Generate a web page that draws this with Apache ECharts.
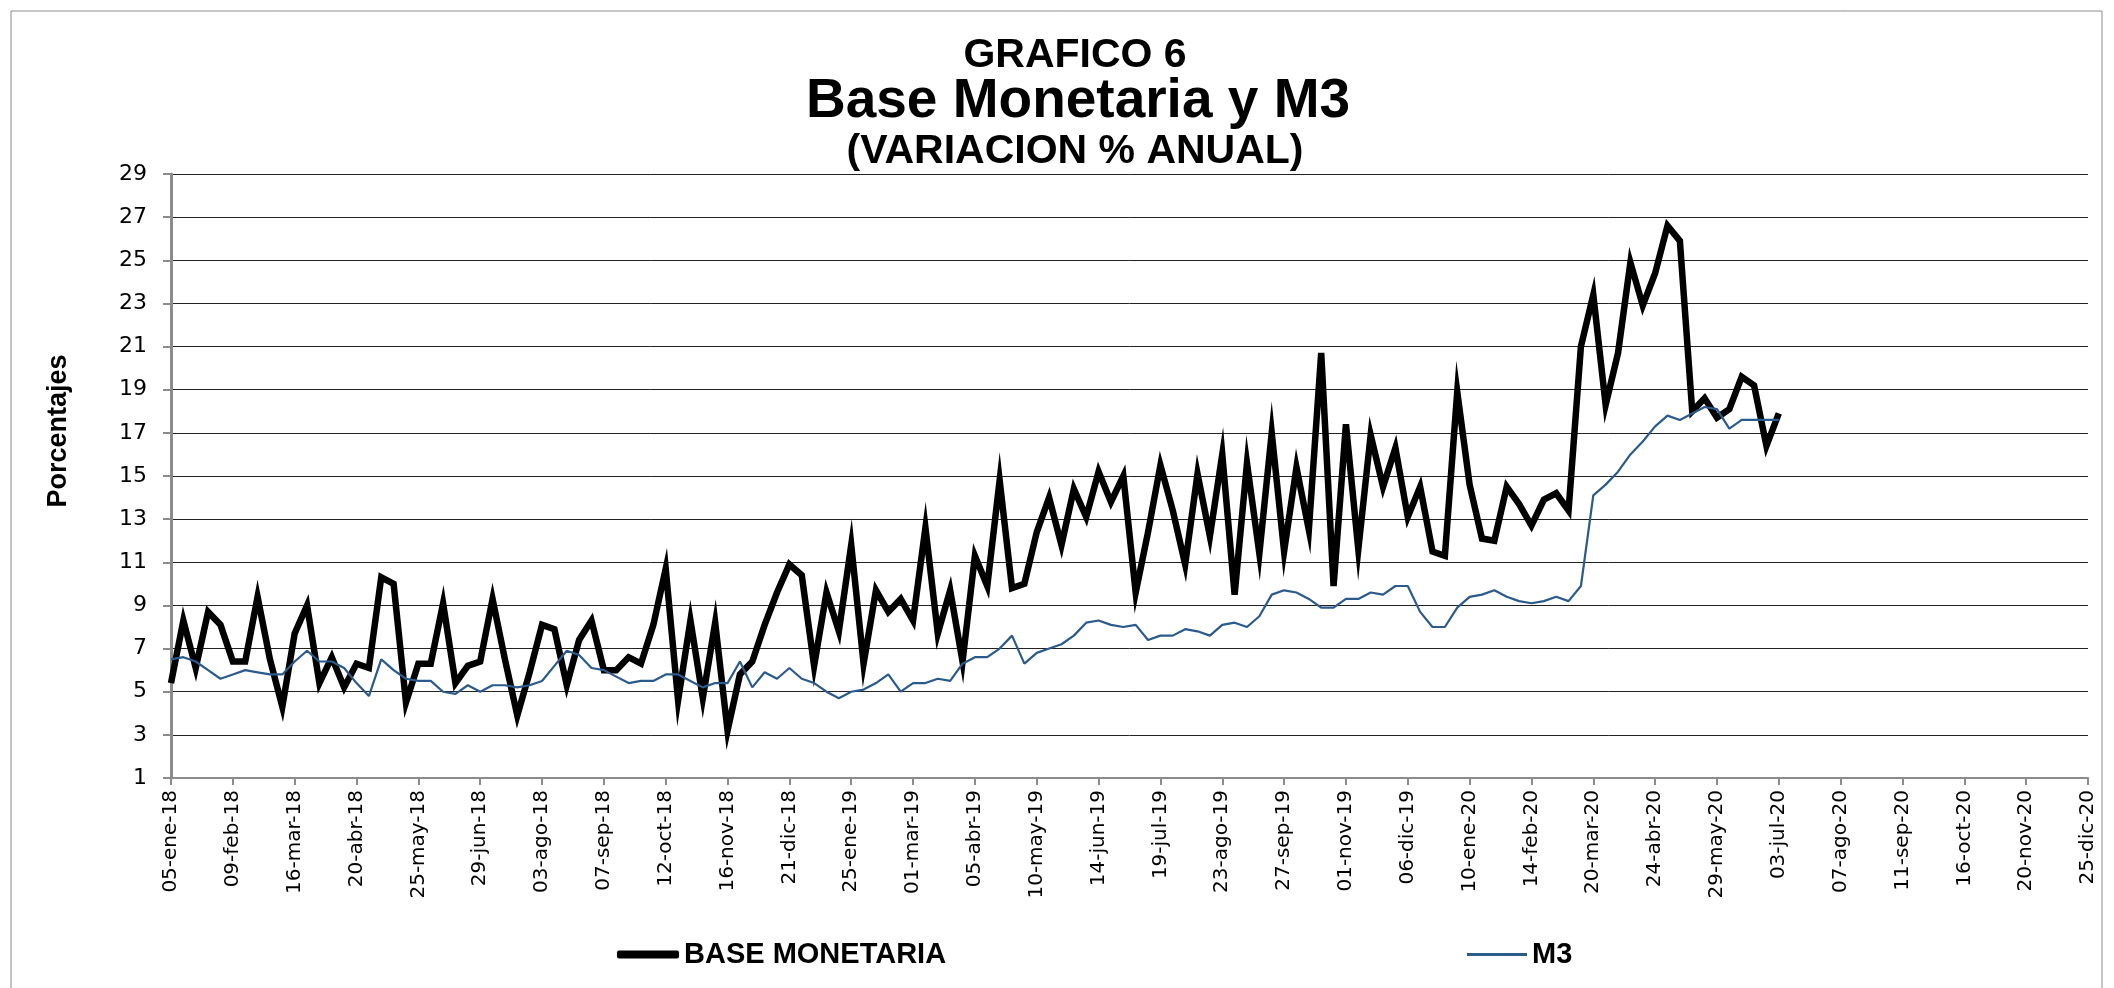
<!DOCTYPE html>
<html lang="es">
  <head>
    <meta charset="UTF-8" />
    <title>Base Monetaria y M3</title>
    <style>
      html,
      body {
        margin: 0;
        padding: 0;
        background: #fff;
      }
      #main {
        width: 2114px;
        height: 988px;
      }
    </style>
  </head>
  <body>
    <div id="main"></div>
    <script src="https://cdn.jsdelivr.net/npm/echarts@6/dist/echarts.min.js"></script>

    <script>
      // semanas desde 05-ene-18 hasta 25-dic-20 (156 semanas)
      const startDate = new Date(2018, 0, 5);
      const weekCount = 156;
      const monthNames = ["ene", "feb", "mar", "abr", "may", "jun", "jul", "ago", "sep", "oct", "nov", "dic"];

      // variacion % anual, semanal, 05-ene-18 .. 03-jul-20
      const baseMonetaria = [
        5.4, 8.3, 6.1, 8.7, 8.1, 6.4, 6.4, 9.4, 6.5, 4.3,
        7.7, 9.0, 5.4, 6.6, 5.2, 6.3, 6.1, 10.3, 10.0, 4.5,
        6.3, 6.3, 9.1, 5.4, 6.2, 6.4, 9.3, 6.5, 3.9, 5.9,
        8.1, 7.9, 5.3, 7.4, 8.3, 6.0, 6.0, 6.6, 6.3, 8.1,
        10.7, 4.6, 8.3, 4.7, 8.2, 3.2, 5.8, 6.4, 8.1, 9.6,
        10.9, 10.4, 6.2, 9.6, 7.8, 11.8, 6.3, 9.7, 8.7, 9.3,
        8.3, 12.6, 7.7, 9.7, 6.4, 11.3, 9.9, 14.8, 9.8, 10.0,
        12.4, 14.0, 11.8, 14.4, 13.1, 15.2, 13.8, 15.0, 9.6, 12.4,
        15.5, 13.4, 10.9, 15.1, 12.2, 16.0, 9.5, 15.6, 11.4, 17.0,
        11.5, 15.4, 12.5, 20.7, 9.9, 17.4, 11.6, 16.9, 14.5, 16.3,
        13.1, 14.5, 11.5, 11.3, 18.9, 14.6, 12.1, 12.0, 14.5, 13.7,
        12.7, 13.9, 14.2, 13.4, 21.0, 23.4, 18.3, 20.7, 24.9, 22.9,
        24.4, 26.6, 25.9, 18.0, 18.6, 17.7, 18.1, 19.6, 19.2, 16.4,
        17.9,
      ];

      const m3 = [
        6.5, 6.6, 6.4, 6.0, 5.6, 5.8, 6.0, 5.9, 5.8, 5.8,
        6.4, 6.9, 6.4, 6.4, 6.1, 5.4, 4.8, 6.5, 6.0, 5.6,
        5.5, 5.5, 5.0, 4.9, 5.3, 5.0, 5.3, 5.3, 5.2, 5.3,
        5.5, 6.2, 6.9, 6.7, 6.1, 6.0, 5.7, 5.4, 5.5, 5.5,
        5.8, 5.8, 5.5, 5.2, 5.4, 5.4, 6.4, 5.2, 5.9, 5.6,
        6.1, 5.6, 5.4, 5.0, 4.7, 5.0, 5.1, 5.4, 5.8, 5.0,
        5.4, 5.4, 5.6, 5.5, 6.3, 6.6, 6.6, 7.0, 7.6, 6.3,
        6.8, 7.0, 7.2, 7.6, 8.2, 8.3, 8.1, 8.0, 8.1, 7.4,
        7.6, 7.6, 7.9, 7.8, 7.6, 8.1, 8.2, 8.0, 8.5, 9.5,
        9.7, 9.6, 9.3, 8.9, 8.9, 9.3, 9.3, 9.6, 9.5, 9.9,
        9.9, 8.7, 8.0, 8.0, 8.9, 9.4, 9.5, 9.7, 9.4, 9.2,
        9.1, 9.2, 9.4, 9.2, 9.9, 14.1, 14.6, 15.2, 16.0, 16.6,
        17.3, 17.8, 17.6, 17.9, 18.2, 18.1, 17.2, 17.6, 17.6, 17.6,
        17.6,
      ];

      function pad(n) {
        return n < 10 ? "0" + n : "" + n;
      }

      const weeks = [];
      for (let i = 0; i < weekCount; i++) {
        const d = new Date(startDate.getTime());
        d.setDate(d.getDate() + 7 * i);
        weeks.push(pad(d.getDate()) + "-" + monthNames[d.getMonth()] + "-" + String(d.getFullYear()).slice(2));
      }

      const dom = document.getElementById("main");
      const myChart = echarts.init(dom);

      const titleFont = '"Liberation Sans", Arial, sans-serif';
      const axisFont = '"DejaVu Sans", Verdana, sans-serif';

      function centeredText(text, x, y, size, rotation) {
        return {
          type: "text",
          x: x,
          y: y,
          rotation: rotation || 0,
          style: {
            text: text,
            font: "bold " + size + "px " + titleFont,
            textAlign: "center",
            textVerticalAlign: "middle",
            fill: "#000",
          },
        };
      }

      myChart.setOption({
        animation: false,
        backgroundColor: "#fff",
        graphic: [
          {
            type: "rect",
            shape: { x: 11, y: 11, width: 2091, height: 1000 },
            style: { fill: "none", stroke: "#8c8c8c", lineWidth: 1 },
            silent: true,
          },
          centeredText("GRAFICO 6", 1075, 56, 41),
          centeredText("Base Monetaria y M3", 1078, 102, 55),
          centeredText("(VARIACION % ANUAL)", 1075, 152, 41),
          centeredText("Porcentajes", 59, 431, 27, Math.PI / 2),
        ],
        legend: [
          {
            data: ["BASE MONETARIA"],
            left: 612,
            top: 935,
            icon: "roundRect",
            itemWidth: 62,
            itemHeight: 8,
            itemGap: 4,
            textStyle: {
              fontFamily: titleFont,
              fontWeight: "bold",
              fontSize: 29,
              color: "#000",
            },
          },
          {
            data: ["M3"],
            left: 1462,
            top: 935,
            icon: "rect",
            itemWidth: 60,
            itemHeight: 3,
            itemGap: 4,
            textStyle: {
              fontFamily: titleFont,
              fontWeight: "bold",
              fontSize: 29,
              color: "#000",
            },
          },
        ],
        grid: {
          left: 171,
          right: 26,
          top: 174,
          bottom: 210,
          containLabel: false,
        },
        xAxis: {
          type: "category",
          data: weeks,
          boundaryGap: false,
          axisLine: {
            lineStyle: { color: "#8c8c8c", width: 2 },
          },
          axisTick: {
            interval: 4,
            length: 7,
            lineStyle: { color: "#8c8c8c", width: 2 },
          },
          axisLabel: {
            interval: 4,
            rotate: 90,
            margin: 12,
            color: "#000",
            fontFamily: axisFont,
            fontSize: 20,
          },
        },
        yAxis: {
          type: "value",
          min: 1,
          max: 29,
          interval: 2,
          axisLine: {
            show: true,
            lineStyle: { color: "#8c8c8c", width: 3 },
          },
          axisTick: {
            show: true,
            length: 8,
            lineStyle: { color: "#8c8c8c", width: 2 },
          },
          axisLabel: {
            margin: 24,
            color: "#000",
            fontFamily: axisFont,
            fontSize: 22,
          },
          splitLine: {
            lineStyle: { color: "#222", width: 1 },
          },
        },
        series: [
          {
            name: "BASE MONETARIA",
            type: "line",
            data: baseMonetaria,
            symbol: "none",
            color: "#000",
            lineStyle: { color: "#000", width: 6.5, join: "miter" },
            z: 3,
          },
          {
            name: "M3",
            type: "line",
            data: m3,
            symbol: "none",
            color: "#2b5a8c",
            lineStyle: { color: "#2b5a8c", width: 2.2 },
            z: 4,
          },
        ],
      });
    </script>
  </body>
</html>
